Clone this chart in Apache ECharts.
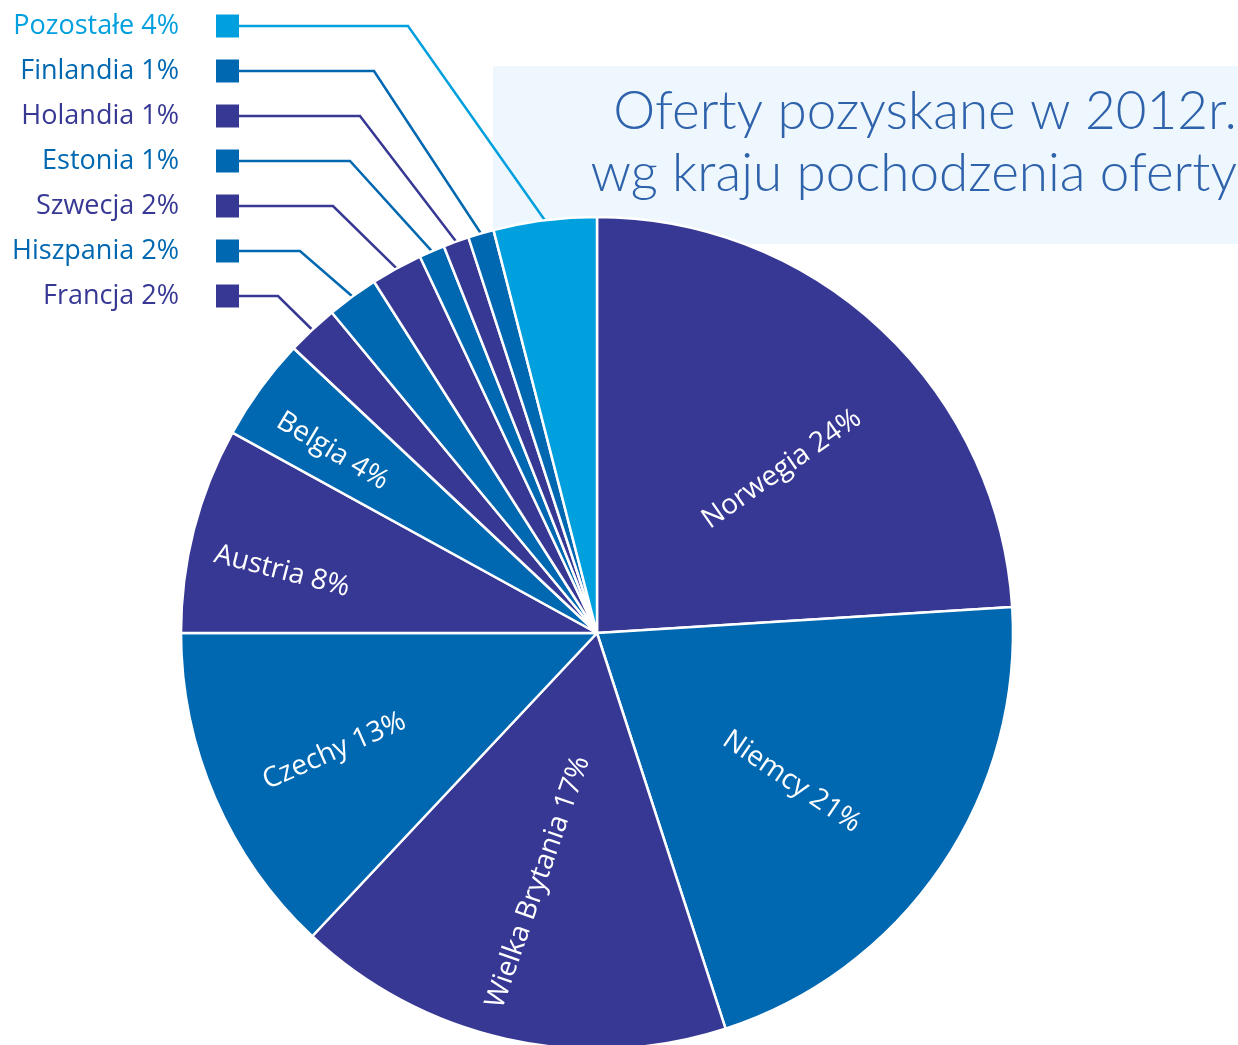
<!DOCTYPE html>
<html>
<head>
<meta charset="utf-8">
<script src="https://cdn.jsdelivr.net/npm/echarts@6/dist/echarts.min.js"></script>
<style>
  html, body { margin: 0; padding: 0; background: #fff; }
  #chart { width: 1238px; height: 1045px; }
</style>
</head>
<body>
<div id="chart"></div>
<script>
// dane z wykresu (udzial w %)
const countries = ["Norwegia", "Niemcy", "Wielka Brytania", "Czechy", "Austria", "Belgia",
  "Francja", "Hiszpania", "Szwecja", "Estonia", "Holandia", "Finlandia", "Pozostałe"];
const shares = [24, 21, 17, 13, 8, 4, 2, 2, 2, 1, 1, 1, 4];

const PURPLE = "#373894", BLUE = "#0067b1", LIGHT = "#00a0df";
const colors = [PURPLE, BLUE, PURPLE, BLUE, PURPLE, BLUE, PURPLE, BLUE, PURPLE, BLUE, PURPLE, BLUE, LIGHT];

const cx = 597, cy = 633, R = 416;
const insideCount = 6;
// polozenie etykiet wewnetrznych: kat od godz. 12, odleglosc od srodka, obrot tekstu
const labelAngle = [48.4, 127.4, 193.3, 245.8, 281.1, 304.5];
const labelDist = [247, 245, 256, 288, 321, 321];
const labelRotate = [35, -34, 70.7, 24, -14.4, -31];
// zalamanie linii odnosnikow, od Francji do Pozostalych
const bendX = [278, 300, 333, 350, 360, 374, 408];
const legendRight = 239, rowTop = 26, rowStep = 45;

const font = "'Open Sans', 'Noto Sans', sans-serif";
const total = shares.reduce(function (a, b) { return a + b; }, 0);

let myChart = echarts.init(document.getElementById("chart"));

const data = countries.map(function (name, i) {
  const item = { name: name, value: shares[i], itemStyle: { color: colors[i] } };
  if (i < insideCount) {
    item.label = { rotate: labelRotate[i] };
  } else {
    item.label = {
      position: "outside",
      rotate: 0,
      formatter: "{t|" + name + " " + shares[i] + "%}{g|}{sq|}",
      rich: {
        t: { color: colors[i], fontSize: 27, fontFamily: font },
        g: { width: 37 },
        sq: { width: 23, height: 23, backgroundColor: colors[i] }
      }
    };
    item.labelLine = { show: true, lineStyle: { color: colors[i], width: 2.5 } };
  }
  return item;
});

// kat srodka wycinka (od godziny 12, zgodnie z ruchem wskazowek)
function midAngle(i) {
  let cum = 0;
  for (let k = 0; k < i; k++) cum += shares[k];
  return (cum + shares[i] / 2) / total * Math.PI * 2;
}

myChart.setOption({
  animation: false,
  graphic: [{
    type: "rect",
    z: 0,
    shape: { x: 493, y: 66, width: 745, height: 178 },
    style: { fill: "#eef7fd" }
  }, {
    type: "text",
    z: 1,
    x: 1237,
    y: 81,
    style: {
      text: "Oferty pozyskane w 2012r.\nwg kraju pochodzenia oferty",
      align: "right",
      verticalAlign: "top",
      fill: "#2e62ab",
      fontSize: 53,
      fontWeight: 300,
      fontFamily: "Lato, 'Open Sans', sans-serif",
      lineHeight: 62
    }
  }],
  series: [{
    type: "pie",
    z: 5,
    center: [cx, cy],
    radius: R,
    startAngle: 90,
    clockwise: true,
    avoidLabelOverlap: false,
    itemStyle: { borderColor: "#fff", borderWidth: 2.5 },
    label: {
      show: true,
      position: "inside",
      color: "#fff",
      fontSize: 28,
      fontFamily: font,
      formatter: function (p) { return p.name + " " + p.value + "%"; }
    },
    labelLine: { show: false, lineStyle: { width: 2.5 } },
    emphasis: { disabled: true },
    labelLayout: function (p) {
      const i = p.dataIndex;
      if (i < insideCount) {
        const a = labelAngle[i] * Math.PI / 180;
        return {
          x: cx + Math.sin(a) * labelDist[i],
          y: cy - Math.cos(a) * labelDist[i],
          align: "center",
          verticalAlign: "middle"
        };
      }
      const rowY = rowTop + (countries.length - 1 - i) * rowStep;
      const a = midAngle(i);
      const p0 = [cx + Math.sin(a) * R, cy - Math.cos(a) * R];
      return {
        x: legendRight,
        y: rowY,
        align: "right",
        verticalAlign: "middle",
        labelLinePoints: [p0, [bendX[i - insideCount], rowY], [legendRight, rowY]]
      };
    },
    data: data
  }]
});
</script>
</body>
</html>
